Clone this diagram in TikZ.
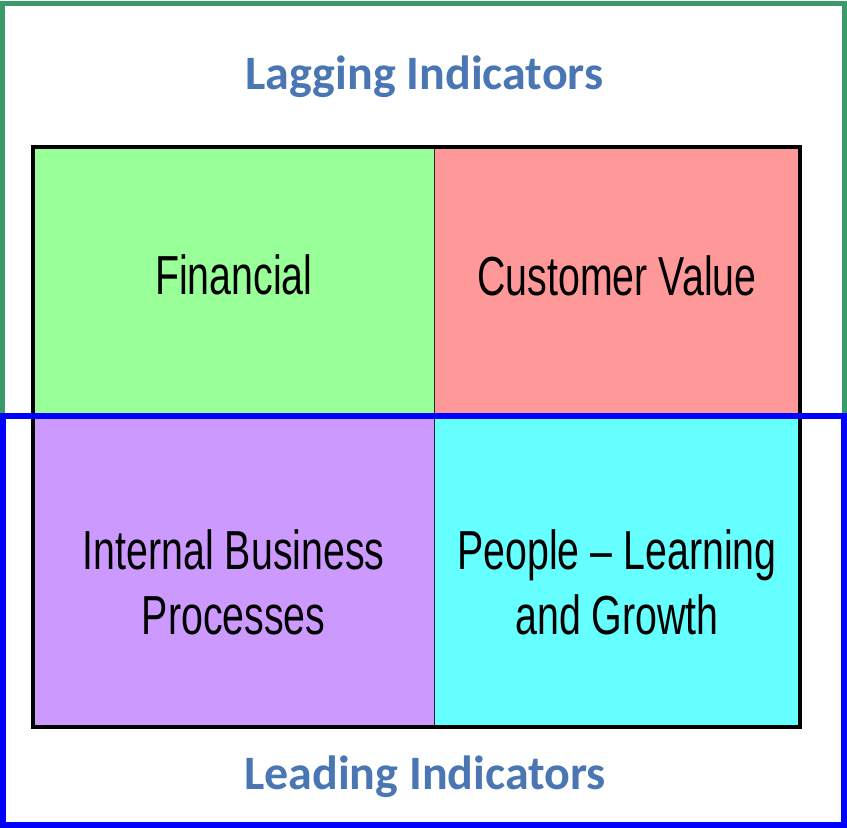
\documentclass[tikz,border=0pt]{standalone}
\usepackage{fontspec}
\usepackage{xcolor}

\newfontfamily\cellfont[FakeStretch=0.715]{Liberation Sans}
\newfontfamily\headfont{Carlito}

\definecolor{lagframe}{RGB}{58,155,104}
\definecolor{leadframe}{RGB}{0,0,255}
\definecolor{headblue}{RGB}{74,119,180}
\definecolor{fincolor}{RGB}{153,255,153}
\definecolor{custcolor}{RGB}{255,153,153}
\definecolor{proccolor}{RGB}{204,153,255}
\definecolor{peoplecolor}{RGB}{102,255,255}

\tikzset{
	cell/.style = {draw=black!85, line width=1.2pt},
	celltext/.style = {align=center, inner sep=0pt, font=\cellfont\fontsize{55}{65}\selectfont},
	headtext/.style = {anchor=base, inner sep=0pt, text=headblue, font=\headfont\bfseries\fontsize{48}{56}\selectfont}
}

\begin{document}
\begin{tikzpicture}[x=1pt, y=1pt]
		\useasboundingbox (0,0) rectangle (847,-828);
		\fill[white] (0,0) rectangle (847,-828);

		% upper frame
		\draw[lagframe, line width=5pt] (2.5,-3.5) rectangle (844.5,-415);

		% the four perspectives
		\path[cell, fill=fincolor] (33,-147) rectangle (434.5,-415);
		\path[cell, fill=custcolor] (434.5,-147) rectangle (800,-415);
		\path[cell, fill=proccolor] (33,-415) rectangle (434.5,-727);
		\path[cell, fill=peoplecolor] (434.5,-415) rectangle (800,-727);
		\draw[line width=4pt, line join=miter] (33,-147) rectangle (800,-727);

		\node[celltext] (fin) at (233.75,-275) {Financial};
		\node[celltext] (cust) at (617,-276) {Customer Value};
		\node[celltext] (proc) at (233.75,-582) {Internal Business\\Processes};
		\node[celltext] (people) at (617,-582) {People \textendash{} Learning\\and Growth};

		% lower frame
		\draw[leadframe, line width=6pt] (3,-415.5) rectangle (844,-825);

		\node[headtext] (lagging) at (424.5,-89) {Lagging Indicators};
		\node[headtext] (leading) at (425,-789) {Leading Indicators};

	\end{tikzpicture}
\end{document}
